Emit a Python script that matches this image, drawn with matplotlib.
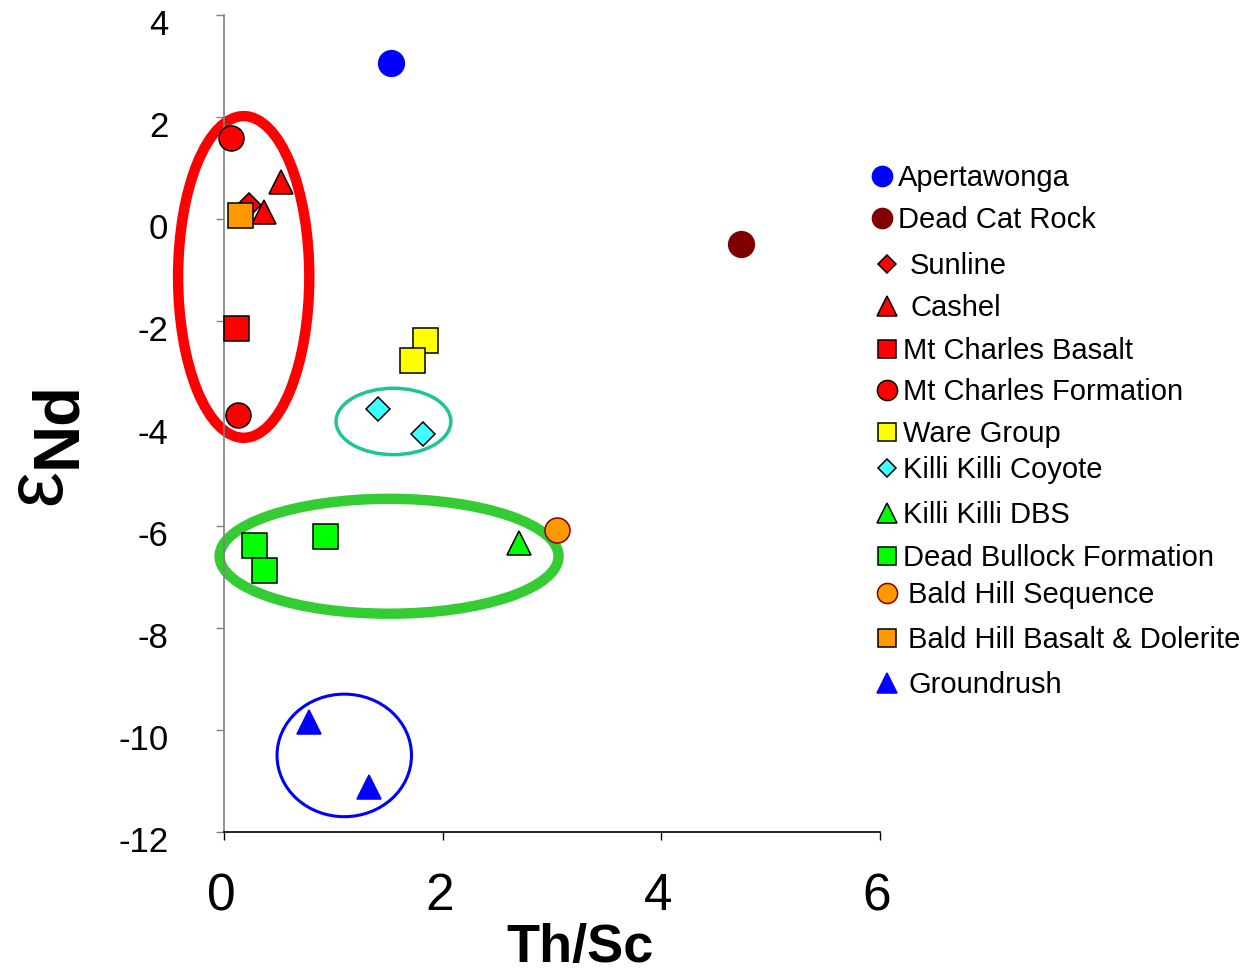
import matplotlib
matplotlib.use("Agg")
import matplotlib.pyplot as plt
from matplotlib.patches import Ellipse
from matplotlib.lines import Line2D
from matplotlib.transforms import ScaledTranslation

plt.rcParams['font.family'] = ['Liberation Sans', 'DejaVu Sans']
plt.rcParams['axes.unicode_minus'] = False

# data: Th/Sc vs eps Nd
apertawonga_x = [1.53]
apertawonga_y = [3.06]
deadcat_x = [4.73]
deadcat_y = [-0.49]
sunline_x = [0.23]
sunline_y = [0.27]
cashel_x = [0.52, 0.37]
cashel_y = [0.72, 0.15]
mtc_basalt_x = [0.11]
mtc_basalt_y = [-2.13]
mtc_form_x = [0.06, 0.13]
mtc_form_y = [1.60, -3.84]
ware_x = [1.84, 1.72]
ware_y = [-2.37, -2.76]
coyote_x = [1.41, 1.82]
coyote_y = [-3.72, -4.21]
dbs_x = [2.70]
dbs_y = [-6.35]
bullock_x = [0.27, 0.37, 0.92]
bullock_y = [-6.38, -6.87, -6.21]
bhseq_x = [3.05]
bhseq_y = [-6.09]
bhbasalt_x = [0.15]
bhbasalt_y = [0.08]
groundrush_x = [0.78, 1.33]
groundrush_y = [-9.85, -11.12]

names = ['Apertawonga', 'Dead Cat Rock', 'Sunline', 'Cashel', 'Mt Charles Basalt',
         'Mt Charles Formation', 'Ware Group', 'Killi Killi Coyote', 'Killi Killi DBS',
         'Dead Bullock Formation', 'Bald Hill Sequence', 'Bald Hill Basalt & Dolerite',
         'Groundrush']

# (x, y, marker, size, face, edge)
series = [
    (apertawonga_x, apertawonga_y, 'o', 18.5, '#0000FF', '#0000FF'),
    (deadcat_x, deadcat_y, 'o', 18.5, '#800000', '#800000'),
    (sunline_x, sunline_y, 'D', 12.5, '#FF0000', 'black'),
    (cashel_x, cashel_y, '^', 17.5, '#FF0000', 'black'),
    (mtc_basalt_x, mtc_basalt_y, 's', 18, '#FF0000', 'black'),
    (mtc_form_x, mtc_form_y, 'o', 18, '#FF0000', 'black'),
    (ware_x, ware_y, 's', 18, '#FFFF00', 'black'),
    (coyote_x, coyote_y, 'D', 12.5, '#40FFFF', 'black'),
    (dbs_x, dbs_y, '^', 17.5, '#00FF00', 'black'),
    (bullock_x, bullock_y, 's', 18, '#00FF00', 'black'),
    (bhseq_x, bhseq_y, 'o', 18, '#FF9900', '#800000'),
    (bhbasalt_x, bhbasalt_y, 's', 18, '#FF9900', 'black'),
    (groundrush_x, groundrush_y, '^', 17.5, '#0000FF', '#0000FF'),
]

# group outlines: (cx, cy, width, height, colour, lw)
ellipses = [
    (0.18, -1.13, 1.2, 6.3, '#FF0000', 7.5),
    (1.55, -3.96, 1.05, 1.3, '#1FC397', 2.5),
    (1.51, -6.60, 3.1, 2.25, '#33CC33', 7.5),
    (1.10, -10.50, 1.23, 2.4, '#0000FF', 2.2),
]

fig = plt.figure(figsize=(12.55, 9.75), dpi=100)
ax = fig.add_axes([224 / 1255, 1 - 832 / 975, 656 / 1255, 817 / 975])
ax.set_xlim(0, 6)
ax.set_ylim(-12, 4)

for cx, cy, w, h, c, lw in ellipses:
    ax.add_patch(Ellipse((cx, cy), w, h, fill=False, edgecolor=c, linewidth=lw,
                         clip_on=False, zorder=2))

for x, y, m, s, fc, ec in series:
    ax.plot(x, y, linestyle='none', marker=m, markersize=s, markerfacecolor=fc,
            markeredgecolor=ec, markeredgewidth=1.1, clip_on=False, zorder=3)

for side in ['top', 'right']:
    ax.spines[side].set_visible(False)
ax.spines['left'].set_color('#808080')
ax.spines['left'].set_linewidth(1.2)
ax.spines['bottom'].set_color('black')
ax.spines['bottom'].set_linewidth(1.2)

ax.set_xticks([0, 2, 4, 6])
ax.set_yticks(range(-12, 5, 2))
ax.tick_params(axis='y', direction='out', length=6, width=1, color='#808080',
               labelsize=25, pad=34)
ax.tick_params(axis='x', direction='out', length=6, width=1, color='black',
               labelsize=37, pad=23)
for lab in ax.get_yticklabels():
    lab.set_transform(lab.get_transform() + ScaledTranslation(0, -0.07, fig.dpi_scale_trans))
for lab in ax.get_xticklabels():
    lab.set_transform(lab.get_transform() + ScaledTranslation(-0.03, 0, fig.dpi_scale_trans))

fig.text(580 / 1255, 1 - 948 / 975, 'Th/Sc', fontsize=39, fontweight='bold',
         ha='center', va='center')
fig.text(39 / 1255, 1 - 487 / 975, 'ε', fontsize=58, rotation=90,
         ha='center', va='center')
fig.text(58 / 1255, 1 - 425 / 975, 'Nd', fontsize=47, fontweight='bold', rotation=90,
         ha='center', va='center')

# hand placed legend
leg_my = [176, 218, 264, 306, 349, 390, 432, 468, 513, 556, 593, 638, 683]
leg_mx = [882, 882, 887, 887, 887, 887, 887, 887, 887, 887, 887, 887, 887]
leg_tx = [898, 898, 910, 910, 903, 903, 903, 903, 903, 903, 908, 908, 908]
leg_size = {'o': 14.5, 's': 13, 'D': 9.2, '^': 14}
for i, (x, y, m, s, fc, ec) in enumerate(series):
    fig.add_artist(Line2D([leg_mx[i] / 1255], [1 - leg_my[i] / 975], transform=fig.transFigure,
                          linestyle='none', marker=m, markersize=leg_size[m],
                          markerfacecolor=fc, markeredgecolor=ec, markeredgewidth=1.1))
    fig.text(leg_tx[i] / 1255, 1 - (leg_my[i] + 10) / 975, names[i], fontsize=21,
             ha='left', va='baseline')

fig.savefig('out.png', dpi=100)
